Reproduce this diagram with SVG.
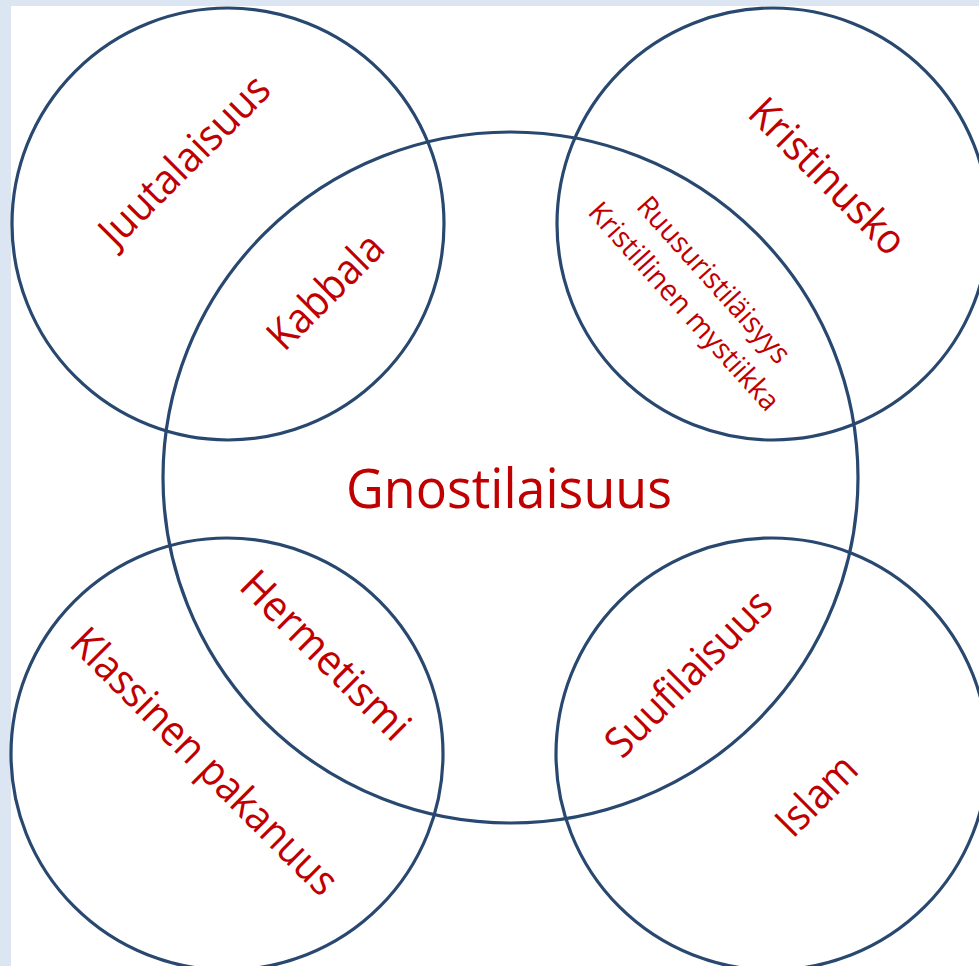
<svg xmlns="http://www.w3.org/2000/svg" width="979" height="966" viewBox="0 0 979 966">
<style>
.ring{fill:none;stroke:#284870;stroke-width:3.2}
.lbl{font-family:"Open Sans","Noto Sans","Liberation Sans",sans-serif;fill:#c00000;text-anchor:middle}
.big{font-size:42px}
.small{font-size:29px}
.main{font-size:54px}
</style>
<rect x="0" y="0" width="979" height="966" fill="#dce6f2"/>
<rect x="11" y="6" width="968" height="960" fill="#ffffff"/>
<g id="shapes">
<circle id="c-juutalaisuus" class="ring" cx="228" cy="224" r="216"/>
<circle id="c-kristinusko" class="ring" cx="773" cy="224" r="216"/>
<circle id="c-klassinen" class="ring" cx="227" cy="754" r="216"/>
<circle id="c-islam" class="ring" cx="772" cy="754" r="216"/>
<ellipse id="c-gnostilaisuus" class="ring" cx="510.5" cy="477.5" rx="347.5" ry="345.5"/>
</g>
<g id="labels">
<text id="t-gnostilaisuus" class="lbl main" x="509" y="508" textLength="326" lengthAdjust="spacingAndGlyphs">Gnostilaisuus</text>
<g id="t-juutalaisuus" transform="translate(184,160) rotate(-45)"><text class="lbl big" x="0" y="15" textLength="222" lengthAdjust="spacingAndGlyphs">Juutalaisuus</text></g>
<g id="t-kabbala" transform="translate(325,291) rotate(-45)"><text class="lbl big" x="0" y="15" textLength="145" lengthAdjust="spacingAndGlyphs">Kabbala</text></g>
<g id="t-kristinusko" transform="translate(828,176) rotate(45)"><text class="lbl big" x="0" y="15" textLength="202" lengthAdjust="spacingAndGlyphs">Kristinusko</text></g>
<g id="t-ruusu" transform="translate(699,293) rotate(48)">
<text class="lbl small" x="0" y="-10" textLength="213" lengthAdjust="spacingAndGlyphs">Ruusuristiläisyys</text>
<text class="lbl small" x="0" y="30" textLength="269" lengthAdjust="spacingAndGlyphs">Kristillinen mystiikka</text>
</g>
<g id="t-hermetismi" transform="translate(326,655) rotate(45)"><text class="lbl big" x="0" y="15" textLength="220" lengthAdjust="spacingAndGlyphs">Hermetismi</text></g>
<g id="t-klassinen" transform="translate(205,761) rotate(45)"><text class="lbl big" x="0" y="15" textLength="358" lengthAdjust="spacingAndGlyphs">Klassinen pakanuus</text></g>
<g id="t-suufilaisuus" transform="translate(688,673) rotate(-45)"><text class="lbl big" x="0" y="15" textLength="216" lengthAdjust="spacingAndGlyphs">Suufilaisuus</text></g>
<g id="t-islam" transform="translate(816,795) rotate(-45)"><text class="lbl big" x="0" y="15" textLength="96" lengthAdjust="spacingAndGlyphs">Islam</text></g>
</g>
</svg>
